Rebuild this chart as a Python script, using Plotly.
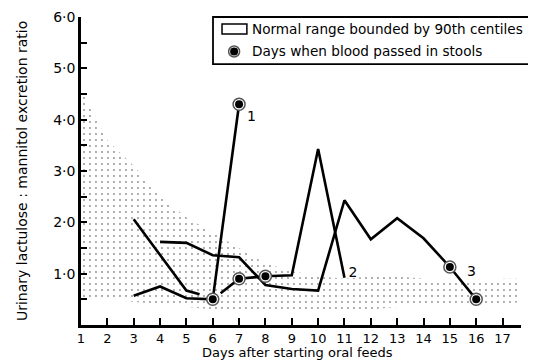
import plotly.graph_objects as go

# ---- data ----
range_days = [1, 2, 3, 4, 5, 6, 7, 8, 9, 10, 11, 12, 13, 14, 15, 16, 17, 17.7]
range_upper = [4.6, 3.6, 3.1, 2.5, 2.1, 1.8, 1.5, 1.2, 1.05, 0.95, 0.9, 0.95, 0.95, 0.9, 0.85, 0.85, 0.9, 0.9]
range_lower = [0.55, 0.5, 0.45, 0.4, 0.35, 0.3, 0.3, 0.25, 0.25, 0.25, 0.25, 0.3, 0.35, 0.35, 0.35, 0.4, 0.4, 0.45]

s1_days = [3, 4, 5, 6, 7]
s1_vals = [0.57, 0.75, 0.52, 0.5, 4.3]

s2_days = [6.3, 7, 8, 9, 10, 11]
s2_vals = [0.62, 0.9, 0.95, 0.97, 3.43, 0.92]

s3_days = [4, 5, 6, 7, 8, 9, 10, 11, 12, 13, 14, 15, 16]
s3_vals = [1.62, 1.6, 1.36, 1.32, 0.78, 0.7, 0.67, 2.43, 1.67, 2.08, 1.69, 1.13, 0.5]

s4_days = [3, 5, 5.5]
s4_vals = [2.06, 0.67, 0.6]

blood_days = [6, 7, 7, 8, 15, 16]
blood_vals = [0.5, 4.3, 0.9, 0.95, 1.13, 0.5]

line_labels = ["1", "2", "3"]
label_days = [7.3, 11.15, 15.65]
label_vals = [4.05, 1.0, 1.03]

x_ticks = list(range(1, 18))
y_ticks = [1, 2, 3, 4, 5, 6]
y_ticktext = ["1·0", "2·0", "3·0", "4·0", "5·0", "6·0"]

FONT = "DejaVu Sans"

fig = go.Figure()

# normal range (stippled)
fig.add_trace(go.Scatter(x=range_days, y=range_lower, mode="lines",
                         line=dict(width=0), showlegend=False, hoverinfo="skip"))
fig.add_trace(go.Scatter(x=range_days, y=range_upper, mode="lines",
                         line=dict(width=0), fill="tonexty",
                         fillcolor="rgba(0,0,0,0)",
                         fillpattern=dict(shape=".", fgcolor="#222222", bgcolor="white",
                                          size=6, solidity=0.08),
                         showlegend=False, hoverinfo="skip"))

for xs, ys in [(s1_days, s1_vals), (s2_days, s2_vals), (s3_days, s3_vals), (s4_days, s4_vals)]:
    fig.add_trace(go.Scatter(x=xs, y=ys, mode="lines",
                             line=dict(color="black", width=2.6),
                             showlegend=False, hoverinfo="skip"))

# blood-in-stool markers
fig.add_trace(go.Scatter(x=blood_days, y=blood_vals, mode="markers",
                         marker=dict(symbol="circle", size=12, color="white",
                                     line=dict(color="#555555", width=1.5)),
                         showlegend=False, hoverinfo="skip"))
fig.add_trace(go.Scatter(x=blood_days, y=blood_vals, mode="markers",
                         marker=dict(symbol="circle", size=8, color="black",
                                     line=dict(width=0)),
                         showlegend=False, hoverinfo="skip"))

fig.add_trace(go.Scatter(x=label_days, y=label_vals, mode="text", text=line_labels,
                         textfont=dict(family=FONT, size=14, color="black"),
                         textposition="middle right", showlegend=False, hoverinfo="skip"))

shapes = [
    # legend box
    dict(type="rect", xref="paper", yref="paper", x0=0.30, x1=1.027, y0=0.847, y1=1.0,
         line=dict(color="black", width=1.8), fillcolor="white", layer="above"),
    dict(type="rect", xref="paper", yref="paper", x0=0.3205, x1=0.377, y0=0.945, y1=0.977,
         line=dict(color="black", width=1.5), fillcolor="white", layer="above"),
    dict(type="circle", xref="paper", yref="paper", xsizemode="pixel", ysizemode="pixel",
         xanchor=0.348, yanchor=0.888, x0=-5.5, x1=5.5, y0=-5.5, y1=5.5,
         line=dict(color="#555555", width=1.5), fillcolor="white", layer="above"),
    dict(type="circle", xref="paper", yref="paper", xsizemode="pixel", ysizemode="pixel",
         xanchor=0.348, yanchor=0.888, x0=-4, x1=4, y0=-4, y1=4,
         line=dict(color="black", width=0), fillcolor="black", layer="above"),
]

annotations = [
    dict(text="Normal range bounded by 90th centiles", xref="paper", yref="paper",
         x=0.384, y=0.961, xanchor="left", yanchor="middle", showarrow=False,
         font=dict(family=FONT, size=13.6, color="black")),
    dict(text="Days when blood passed in stools", xref="paper", yref="paper",
         x=0.384, y=0.890, xanchor="left", yanchor="middle", showarrow=False,
         font=dict(family=FONT, size=13.6, color="black")),
    dict(text="Urinary lactulose : mannitol excretion ratio", xref="paper", yref="paper",
         x=-0.134, y=0.5, xanchor="center", yanchor="middle", textangle=-90,
         showarrow=False, font=dict(family=FONT, size=14, color="black")),
    dict(text="Days after starting oral feeds", xref="paper", yref="paper",
         x=0.493, y=-0.089, xanchor="center", yanchor="middle",
         showarrow=False, font=dict(family=FONT, size=13, color="black")),
]

# page has an 8px body margin, so the figure is 8px smaller and margins shifted
fig.update_layout(
    width=528, height=352,
    margin=dict(l=73, r=15, t=9, b=35, autoexpand=False),
    paper_bgcolor="white", plot_bgcolor="white",
    font=dict(family=FONT, color="black"),
    shapes=shapes, annotations=annotations,
    showlegend=False,
    xaxis=dict(range=[1, 17.7], tickvals=x_ticks, ticks="inside", ticklen=7,
               tickwidth=2, tickcolor="black", showline=True, linecolor="black",
               linewidth=2.5, showgrid=False, zeroline=False, automargin=False,
               tickfont=dict(family=FONT, size=13)),
    yaxis=dict(range=[0, 6.0], tickvals=y_ticks, ticktext=y_ticktext, ticks="inside",
               ticklen=6, tickwidth=2, tickcolor="black", showline=True,
               linecolor="black", linewidth=2.5, showgrid=False, zeroline=False,
               automargin=False, tickfont=dict(family=FONT, size=14),
               minor=dict(tickvals=[0.5, 1.5, 2.5, 3.5, 4.5, 5.5], ticks="inside",
                          ticklen=6, tickwidth=1.5, tickcolor="black", showgrid=False)),
)

fig.write_html("out.html")
